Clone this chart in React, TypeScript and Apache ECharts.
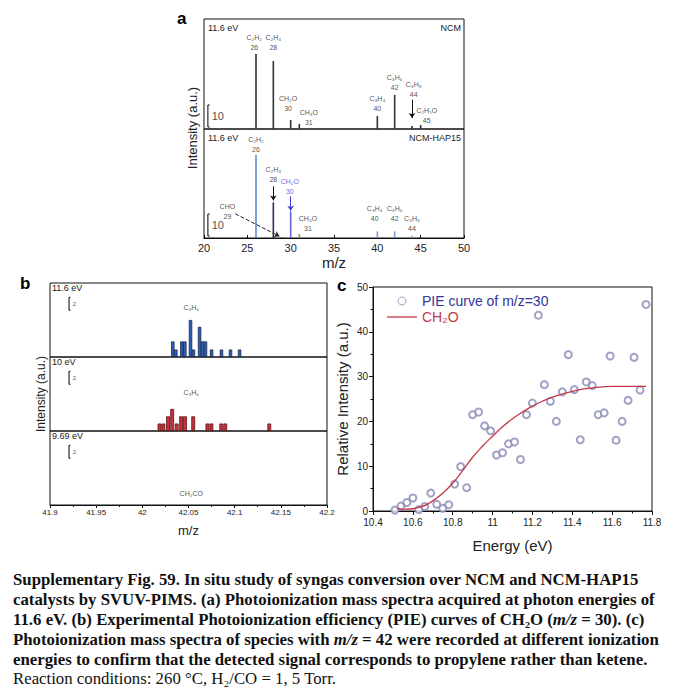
import React, { useEffect, useRef } from 'react';
import * as echarts from 'echarts';

// ---------- Panel a: mass spectra at 11.6 eV ----------
const mzNCM = [26, 28, 30, 31, 40, 42, 44, 45];
const intNCM = [34.1, 30.9, 4.1, 2.3, 5.9, 15.5, 1.4, 1.8];
const mzHAP = [26, 28, 29, 30, 31, 40, 42, 44];
const intHAP = [37.7, 16.2, 0.4, 12.1, 1.8, 3.0, 3.0, 1.0];
const hapColors = ['#5b8bc9', '#24345e', '#555555', '#6464d6', '#8a8a8a', '#7f9ccb', '#7f9ccb', '#8aa0c8'];

const labNCMText = ['C₂H₂\n26', 'C₂H₄\n28', 'CH₂O\n30', 'CH₃O\n31', 'C₃H₄\n40', 'C₃H₆\n42', 'C₃H₈\n44', 'C₂H₅O\n45'];
const labNCMX = [25.8, 28.0, 29.7, 32.1, 40.0, 42.0, 44.2, 45.7];
const labNCMY = [39.2, 39.2, 11.7, 5.4, 11.5, 21.3, 17.9, 6.3];

const labHAPText = ['C₂H₂\n26', 'C₂H₄\n28', 'CH₂O\n30', 'CHO\n29', 'CH₃O\n31', 'C₃H₄\n40', 'C₃H₆\n42', 'C₃H₈\n44'];
const labHAPX = [26.0, 28.0, 29.9, 22.7, 32.0, 39.7, 42.0, 44.0];
const labHAPY = [42.5, 28.9, 23.3, 12.1, 6.4, 10.9, 10.9, 6.4];

// arrows [x1, y1, x2, y2]
const arrowNCM = [[44, 13.3, 44, 5.0]];
const arrowHAP = [[28, 23.5, 28, 17.0], [30, 18.9, 30, 12.4]];
const arrowCHO = [23.6, 11.0, 28.7, 0.8];

const scaleA = 10; // scale bar value
const scaleAX = 20.45;
const scaleABase = 0.9;

// ---------- Panel b: m/z = 42 high resolution ----------
const mzBlue = [42.033, 42.0363, 42.0428, 42.046, 42.0522, 42.0554, 42.062, 42.0652, 42.0684, 42.075, 42.0857, 42.0955, 42.1053];
const intBlue = [2.4, 1.15, 2.4, 2.4, 5.7, 1.15, 4.65, 2.4, 2.4, 1.15, 1.15, 1.15, 1.15];
const mzRed = [42.0186, 42.0228, 42.0278, 42.0323, 42.0372, 42.042, 42.0462, 42.0551, 42.0705, 42.0748, 42.0855, 42.0898, 42.1375];
const intRed = [1.15, 1.15, 2.26, 3.4, 1.15, 2.26, 2.26, 2.26, 1.15, 1.15, 1.15, 1.15, 1.15];
const energiesB = ['11.6 eV', '10 eV', '9.69 eV'];
const speciesB = ['C₃H₆', 'C₃H₆', 'CH₂CO'];
const speciesBY = [7.7, 6.0, 1.8];
const scaleB = 2;

// ---------- Panel c: PIE curve of m/z = 30 ----------
const energy = [10.51, 10.54, 10.57, 10.60, 10.63, 10.66, 10.69, 10.72, 10.75, 10.78, 10.81, 10.84, 10.87, 10.90, 10.93, 10.96, 10.99, 11.02, 11.05, 11.08, 11.11, 11.14, 11.17, 11.20, 11.23, 11.26, 11.29, 11.32, 11.35, 11.38, 11.41, 11.44, 11.47, 11.50, 11.53, 11.56, 11.59, 11.62, 11.65, 11.68, 11.71, 11.74, 11.77];
const pie = [0.2, 1.1, 1.9, 2.9, 0.3, 1.0, 4.0, 1.5, 0.6, 1.4, 6.0, 9.9, 5.2, 21.5, 22.1, 19.0, 17.9, 12.5, 13.0, 15.0, 15.4, 11.5, 21.5, 24.1, 43.7, 28.2, 24.5, 20.0, 26.6, 34.9, 27.1, 15.9, 28.8, 28.0, 21.5, 21.9, 34.6, 15.8, 20.0, 24.7, 34.3, 27.0, 46.1];
const fitE = [10.52, 10.56, 10.60, 10.64, 10.68, 10.72, 10.76, 10.80, 10.85, 10.90, 10.95, 11.0, 11.05, 11.10, 11.15, 11.20, 11.25, 11.30, 11.35, 11.40, 11.45, 11.50, 11.55, 11.60, 11.65, 11.70, 11.77];
const fitI = [0.6, 0.4, 0.5, 0.9, 1.7, 2.9, 4.4, 6.2, 9.0, 12.0, 14.5, 16.7, 18.8, 20.6, 22.1, 23.4, 24.5, 25.4, 26.1, 26.7, 27.2, 27.5, 27.7, 27.8, 27.8, 27.8, 27.8];

const captionLines = [
  'Supplementary Fig. 59. In situ study of syngas conversion over NCM and NCM-HAP15',
  'catalysts by SVUV-PIMS. (a) Photoionization mass spectra acquired at photon energies of',
  '11.6 eV. (b) Experimental Photoionization efficiency (PIE) curves of CH₂O ({i|m/z} = 30). (c)',
  'Photoionization mass spectra of species with {i|m/z} = 42 were recorded at different ionization',
  'energies to confirm that the detected signal corresponds to propylene rather than ketene.',
  'Reaction conditions: 260 °C, H₂/CO = 1, 5 Torr.',
];

const FONT = 'Arial, "Liberation Sans", Helvetica, sans-serif';
const SERIF = '"Liberation Serif", "Times New Roman", serif';
const CAP_SIZE = 16.8;

function labelSeries(xi: number, texts: string[], xs: number[], ys: number[], size: number, colors?: (string | null)[]) {
  return {
    type: 'scatter',
    xAxisIndex: xi,
    yAxisIndex: xi,
    symbolSize: 0,
    silent: true,
    data: texts.map((t, i) => ({
      name: t,
      value: [xs[i], ys[i]],
      label: colors && colors[i] ? { color: colors[i] } : undefined,
    })),
    label: {
      show: true,
      position: 'inside',
      formatter: '{b}',
      fontSize: size,
      lineHeight: size + 3,
      color: '#222',
      fontFamily: FONT,
    },
  } as any;
}

function arrowLines(list: number[][], color: string, type: string) {
  return list.map((a) => [
    { coord: [a[0], a[1]], lineStyle: { color, type, width: 1 } },
    { coord: [a[2], a[3]] },
  ]);
}

function scaleBarSeries(xi: number, x: number, base: number, size: number, dx: number) {
  return {
    type: 'line',
    xAxisIndex: xi,
    yAxisIndex: xi,
    symbol: 'none',
    silent: true,
    lineStyle: { color: '#000', width: 1 },
    data: [[x + dx, base], [x, base], [x, base + size], [x + dx, base + size]],
  } as any;
}

export default function App() {
  const ref = useRef<HTMLDivElement>(null);
  useEffect(() => {
    if (!ref.current) return;
    const chart = echarts.init(ref.current, undefined, { renderer: 'svg' });
    const gridBase = { show: true, borderColor: '#111', borderWidth: 1, backgroundColor: 'transparent', outerBoundsMode: 'none' };
    const hidden = { show: false };
    const bGrids = [283, 357, 431];

    const graphic: any[] = [
      { type: 'text', x: 177, y: 10, style: { text: 'a', font: `bold 17px ${FONT}`, fill: '#000' } },
      { type: 'text', x: 20, y: 275, style: { text: 'b', font: `bold 17px ${FONT}`, fill: '#000' } },
      { type: 'text', x: 337, y: 277, style: { text: 'c', font: `bold 17px ${FONT}`, fill: '#000' } },
      { type: 'text', x: 192, y: 128, rotation: Math.PI / 2, style: { text: 'Intensity (a.u.)', font: `13px ${FONT}`, fill: '#222', align: 'center', verticalAlign: 'middle' } },
      { type: 'text', x: 41, y: 394, rotation: Math.PI / 2, style: { text: 'Intensity (a.u.)', font: `12px ${FONT}`, fill: '#222', align: 'center', verticalAlign: 'middle' } },
      { type: 'text', x: 208, y: 28, style: { text: '11.6 eV', font: `9px ${FONT}`, fill: '#222', verticalAlign: 'middle' } },
      { type: 'text', x: 461, y: 28, style: { text: 'NCM', font: `9px ${FONT}`, fill: '#222', align: 'right', verticalAlign: 'middle' } },
      { type: 'text', x: 208, y: 138, style: { text: '11.6 eV', font: `9px ${FONT}`, fill: '#222', verticalAlign: 'middle' } },
      { type: 'text', x: 461, y: 138, style: { text: 'NCM-HAP15', font: `9px ${FONT}`, fill: '#222', align: 'right', verticalAlign: 'middle' } },
    ];
    energiesB.forEach((e, i) => {
      graphic.push({ type: 'text', x: 52, y: bGrids[i] + 5, style: { text: e, font: `9px ${FONT}`, fill: '#222', verticalAlign: 'middle' } });
    });
    const capY = [579, 599.5, 619.5, 639.5, 659, 678.5];
    captionLines.forEach((t, i) => {
      const bold = i < 5;
      graphic.push({
        type: 'text', x: 13, y: capY[i],
        style: {
          text: t,
          font: `${bold ? 'bold ' : ''}${CAP_SIZE}px ${SERIF}`,
          fill: '#111',
          verticalAlign: 'middle',
          rich: { i: { fontStyle: 'italic', fontWeight: 'bold', fontSize: CAP_SIZE, fontFamily: SERIF, fill: '#111' } },
        },
      });
    });

    const bXAxes = [0, 1, 2].map((k) => ({
      gridIndex: 2 + k, type: 'value', min: 41.9, max: 42.2, interval: 0.05,
      show: k === 2,
      axisLine: { show: true, lineStyle: { color: '#111' } },
      axisTick: { show: true, length: 3, lineStyle: { color: '#111' } },
      minorTick: { show: true, splitNumber: 2, length: 2, lineStyle: { color: '#111' } },
      axisLabel: { fontSize: 8, color: '#222', margin: 3, fontFamily: FONT, formatter: (v: number) => String(+v.toFixed(3)) },
      splitLine: { show: false },
      name: 'm/z', nameLocation: 'middle', nameGap: 19, nameTextStyle: { fontSize: 13, color: '#222', fontFamily: FONT },
    }));

    const option: any = {
      animation: false,
      backgroundColor: '#fff',
      textStyle: { fontFamily: FONT },
      grid: [
        { ...gridBase, left: 204, top: 19, width: 260, height: 110 },
        { ...gridBase, left: 204, top: 129, width: 260, height: 109 },
        { ...gridBase, left: 50, top: 283, width: 277, height: 74 },
        { ...gridBase, left: 50, top: 357, width: 277, height: 74 },
        { ...gridBase, left: 50, top: 431, width: 277, height: 74 },
        { ...gridBase, left: 373, top: 287, width: 279, height: 224 },
      ],
      xAxis: [
        { gridIndex: 0, type: 'value', min: 20, max: 50, ...hidden },
        {
          gridIndex: 1, type: 'value', min: 20, max: 50, interval: 5,
          axisLine: { show: true, lineStyle: { color: '#111' } },
          axisTick: { show: true, inside: true, length: 3, lineStyle: { color: '#111' } },
          axisLabel: { fontSize: 11, color: '#222', margin: 4, fontFamily: FONT },
          splitLine: { show: false },
          name: 'm/z', nameLocation: 'middle', nameGap: 17, nameTextStyle: { fontSize: 15, color: '#222', fontFamily: FONT },
        },
        ...bXAxes,
        {
          gridIndex: 5, type: 'value', min: 10.4, max: 11.8, interval: 0.2,
          axisLine: { show: true, lineStyle: { color: '#111' } },
          axisTick: { show: true, length: 4, lineStyle: { color: '#111' } },
          minorTick: { show: true, splitNumber: 2, length: 2.5, lineStyle: { color: '#111' } },
          axisLabel: { fontSize: 10, color: '#222', margin: 6, fontFamily: FONT, formatter: (v: number) => String(+v.toFixed(2)) },
          splitLine: { show: false },
          name: 'Energy (eV)', nameLocation: 'middle', nameGap: 27, nameTextStyle: { fontSize: 15, color: '#222', fontFamily: FONT },
        },
      ],
      yAxis: [
        { gridIndex: 0, type: 'value', min: 0, max: 50, ...hidden },
        { gridIndex: 1, type: 'value', min: 0, max: 49.5, ...hidden },
        { gridIndex: 2, type: 'value', min: 0, max: 11.4, ...hidden },
        { gridIndex: 3, type: 'value', min: 0, max: 11.4, ...hidden },
        { gridIndex: 4, type: 'value', min: 0, max: 11.4, ...hidden },
        {
          gridIndex: 5, type: 'value', min: 0, max: 50, interval: 10,
          axisLine: { show: true, lineStyle: { color: '#111' } },
          axisTick: { show: true, length: 4, lineStyle: { color: '#111' } },
          minorTick: { show: true, splitNumber: 2, length: 2.5, lineStyle: { color: '#111' } },
          axisLabel: { fontSize: 10, color: '#222', margin: 5, fontFamily: FONT },
          splitLine: { show: false },
          name: 'Relative Intensity (a.u.)', nameLocation: 'middle', nameGap: 23, nameTextStyle: { fontSize: 15, color: '#222', fontFamily: FONT },
        },
      ],
      legend: {
        left: 382, top: 289, orient: 'vertical', itemWidth: 30, itemHeight: 8, itemGap: 2,
        symbolKeepAspect: true,
        textStyle: { fontSize: 14, fontFamily: FONT },
        data: [
          {
            name: 'PIE curve of m/z=30', icon: 'circle',
            itemStyle: { color: '#ffffff', borderColor: '#8a8ab8', borderWidth: 1 },
            textStyle: { color: '#34349a' },
          },
          {
            name: 'CH₂O', icon: 'path://M0,0L30,0L30,1.3L0,1.3Z',
            itemStyle: { color: '#c43848' },
            textStyle: { color: '#c43848' },
          },
        ],
      },
      graphic,
      series: [
        // Panel a peaks
        {
          type: 'bar', xAxisIndex: 0, yAxisIndex: 0, barWidth: 1.6, silent: true,
          itemStyle: { color: '#333' },
          data: mzNCM.map((m, i) => [m, intNCM[i]]),
        },
        {
          type: 'bar', xAxisIndex: 1, yAxisIndex: 1, barWidth: 1.6, silent: true,
          data: mzHAP.map((m, i) => ({ value: [m, intHAP[i]], itemStyle: { color: hapColors[i] } })),
        },
        {
          ...labelSeries(0, labNCMText, labNCMX, labNCMY, 7),
          markLine: { silent: true, symbol: ['none', 'arrow'], symbolSize: 5, label: { show: false }, data: arrowLines(arrowNCM, '#111', 'solid') },
        },
        {
          ...labelSeries(1, labHAPText, labHAPX, labHAPY, 7, [null, null, '#3c3cd0', null, null, null, null, null]),
          markLine: {
            silent: true, symbol: ['none', 'arrow'], symbolSize: 5, label: { show: false },
            data: [
              ...arrowLines([arrowHAP[0]], '#111', 'solid'),
              ...arrowLines([arrowHAP[1]], '#3c3cd0', 'solid'),
              ...arrowLines([arrowCHO], '#222', 'dashed'),
            ],
          },
        },
        scaleBarSeries(0, scaleAX, scaleABase, scaleA, 0.2),
        scaleBarSeries(1, scaleAX, scaleABase, scaleA, 0.2),
        labelSeries(0, [String(scaleA)], [21.6], [scaleABase + scaleA / 2], 11),
        labelSeries(1, [String(scaleA)], [21.6], [scaleABase + scaleA / 2], 11),
        // Panel b bars
        {
          type: 'bar', xAxisIndex: 2, yAxisIndex: 2, barWidth: 3.4, silent: true,
          itemStyle: { color: '#2f5fb3', borderColor: '#15284f', borderWidth: 0.8 },
          data: mzBlue.map((m, i) => [m, intBlue[i]]),
        },
        {
          type: 'bar', xAxisIndex: 3, yAxisIndex: 3, barWidth: 3.8, silent: true,
          itemStyle: { color: '#c8323c', borderColor: '#5a1418', borderWidth: 0.8 },
          data: mzRed.map((m, i) => [m, intRed[i]]),
        },
        ...[0, 1, 2].map((k) => scaleBarSeries(2 + k, 41.9206, 7.2, scaleB, 0.0015)),
        ...[0, 1, 2].map((k) => labelSeries(2 + k, [String(scaleB)], [41.9265], [8.2], 6)),
        ...[0, 1, 2].map((k) => labelSeries(2 + k, [speciesB[k]], [42.053], [speciesBY[k]], 7)),
        // Panel c
        {
          name: 'PIE curve of m/z=30', type: 'scatter', xAxisIndex: 5, yAxisIndex: 5,
          symbol: 'emptyCircle', symbolSize: 7,
          itemStyle: { color: '#8a8ab8', borderColor: '#8a8ab8', borderWidth: 1 },
          data: energy.map((e, i) => [e, pie[i]]),
        },
        {
          name: 'CH₂O', type: 'line', xAxisIndex: 5, yAxisIndex: 5, symbol: 'none', smooth: true,
          lineStyle: { color: '#c43848', width: 1.3 }, itemStyle: { color: '#c43848' },
          data: fitE.map((e, i) => [e, fitI[i]]),
        },
      ],
    };
    chart.setOption(option);
    return () => chart.dispose();
  }, []);
  return <div ref={ref} style={{ position: 'absolute', left: 0, top: 0, width: 686, height: 688, background: '#fff' }} />;
}
